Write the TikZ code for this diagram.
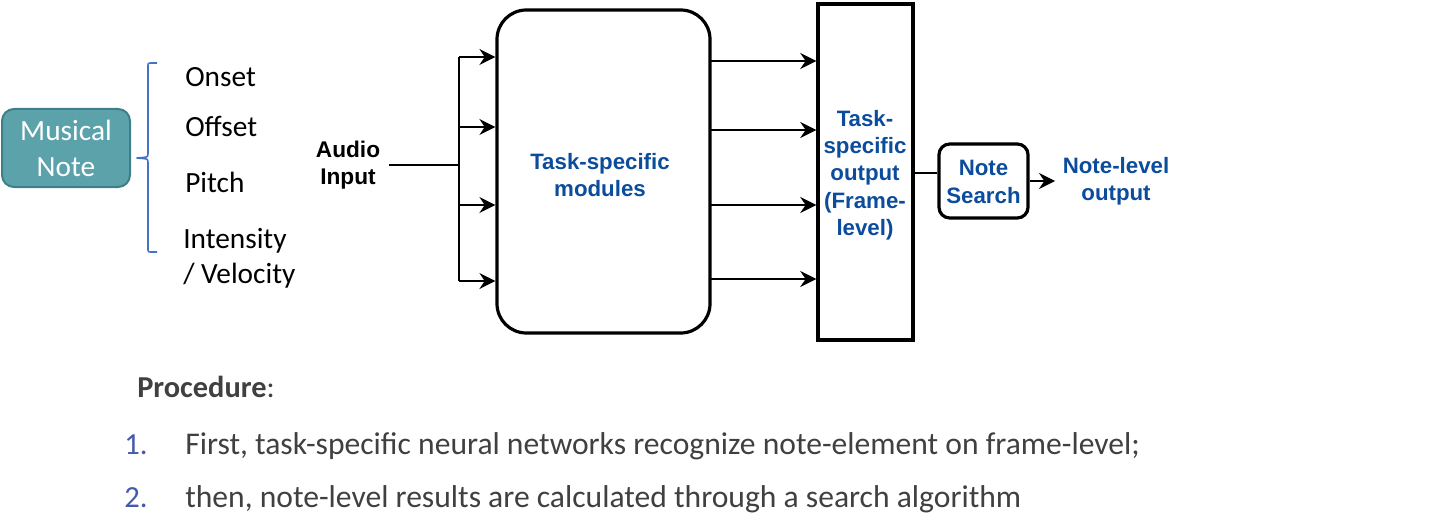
\documentclass[tikz,border=0pt]{standalone}
\usepackage{fontspec}
\setmainfont{Carlito}
\newfontfamily\arialfont{Liberation Sans}
\usetikzlibrary{arrows.meta,calc}
\definecolor{tealfill}{RGB}{91,162,171}
\definecolor{tealdraw}{RGB}{62,128,138}
\definecolor{dblue}{RGB}{12,76,156}
\definecolor{bracecol}{RGB}{68,114,196}
\definecolor{txtgray}{RGB}{64,64,64}
\definecolor{numblue}{RGB}{68,90,170}
\begin{document}
\begin{tikzpicture}[x=0.75pt,y=-0.75pt,
  arr/.style={-{Stealth[length=12pt,width=12pt,inset=4pt]},line width=1.5pt},
  ln/.style={line width=1.5pt},
  lbl/.style={font=\fontsize{22}{27}\selectfont,inner sep=0pt,anchor=base west},
  bluetxt/.style={font=\arialfont\bfseries\fontsize{16.7}{20.5}\selectfont,text=dblue,align=center,inner sep=0pt},
  blacktxt/.style={font=\arialfont\bfseries\fontsize{17}{20.5}\selectfont,text=black,align=center,inner sep=0pt},
  ptitle/.style={font=\fontsize{22.8}{27}\selectfont,text=txtgray,inner sep=0pt,anchor=base west},
  proc/.style={font=\fontsize{23.7}{27}\selectfont,text=txtgray,inner sep=0pt,anchor=base west},
  num/.style={font=\fontsize{23}{27}\selectfont,text=numblue,inner sep=0pt,anchor=base west}
]
\useasboundingbox (0,0) rectangle (1444,524);

% Musical note box
\node[draw=tealdraw,fill=tealfill,line width=1.5pt,rounded corners=9pt,
  minimum width=96pt,minimum height=58.5pt,inner sep=0pt,
  text=white,align=center,font=\fontsize{22}{27}\selectfont] (mn) at (66,148) {Musical\\Note};

% brace
\draw[bracecol,line width=1.2pt,line join=round] (157,63) -- (152,63) .. controls (148,63) .. (148,67) -- (148,152)
  .. controls (148,157) .. (143,157.5) -- (137,158) -- (143,158.5) .. controls (148,159) .. (148,164)
  -- (148,248) .. controls (148,252) .. (152,252) -- (157,252);

% element labels
\node[lbl] (onset) at (185,87) {Onset};
\node[lbl] (offset) at (185,137) {Offset};
\node[lbl] (pitch) at (185,192) {Pitch};
\node[lbl] (inten) at (183,248) {Intensity};
\node[lbl] (velo) at (183,283) {/ Velocity};

% audio input
\node[blacktxt] (audio) at (348,165) {Audio\\Input};
\coordinate (astart) at (389,165);
\coordinate (split) at (459,165);
\coordinate (s1) at (459,57);
\coordinate (s2) at (459,127);
\coordinate (s3) at (459,205);
\coordinate (s4) at (459,281);

% modules box
\node[draw,line width=2.4pt,rounded corners=22pt,minimum width=159.75pt,minimum height=242.25pt,inner sep=0pt] (mod) at (603.5,171.5) {};
\node[bluetxt] (modtxt) at (600,175) {Task-specific\\modules};

% output box
\node[draw,line width=2.6pt,minimum width=71.25pt,minimum height=252pt,inner sep=0pt] (out) at (865.5,172) {};
\node[bluetxt] (outtxt) at (865,175) {Task-\\specific\\output\\(Frame-\\level)};

% note search
\node[draw,line width=2.4pt,rounded corners=8pt,minimum width=66.75pt,minimum height=55.5pt,inner sep=0pt] (ns) at (983.5,181) {};
\node[bluetxt] (nstxt) at (983.5,182) {Note\\Search};

\node[bluetxt] (nlo) at (1116,181) {Note-level\\output};

% connectors
\draw[ln] (astart) -- (split);
\draw[ln] (s1) -- (s4);
\draw[arr] (s1) -- (mod.west |- s1);
\draw[arr] (s2) -- (mod.west |- s2);
\draw[arr] (s3) -- (mod.west |- s3);
\draw[arr] (s4) -- (mod.west |- s4);

\coordinate (r1) at (709,61);
\coordinate (r2) at (709,130);
\coordinate (r3) at (709,205);
\coordinate (r4) at (709,279);
\draw[arr] (r1) -- (out.west |- r1);
\draw[arr] (r2) -- (out.west |- r2);
\draw[arr] (r3) -- (out.west |- r3);
\draw[arr] (r4) -- (out.west |- r4);

\coordinate (o1) at (913,173);
\draw[ln] (out.east |- o1) -- (ns.west |- o1);
\coordinate (nsend) at (1055,181);
\draw[arr] (ns.east) -- (nsend);

% procedure
\node[ptitle] (ptitle) at (137,397) {\textbf{Procedure}:};
\node[num] (n1) at (124,454) {1.};
\node[proc] (t1) at (185,454) {First, task-specific neural networks recognize note-element on frame-level;};
\node[num] (n2) at (124,507) {2.};
\node[proc] (t2) at (185,507) {then, note-level results are calculated through a search algorithm};
\end{tikzpicture}
\end{document}
